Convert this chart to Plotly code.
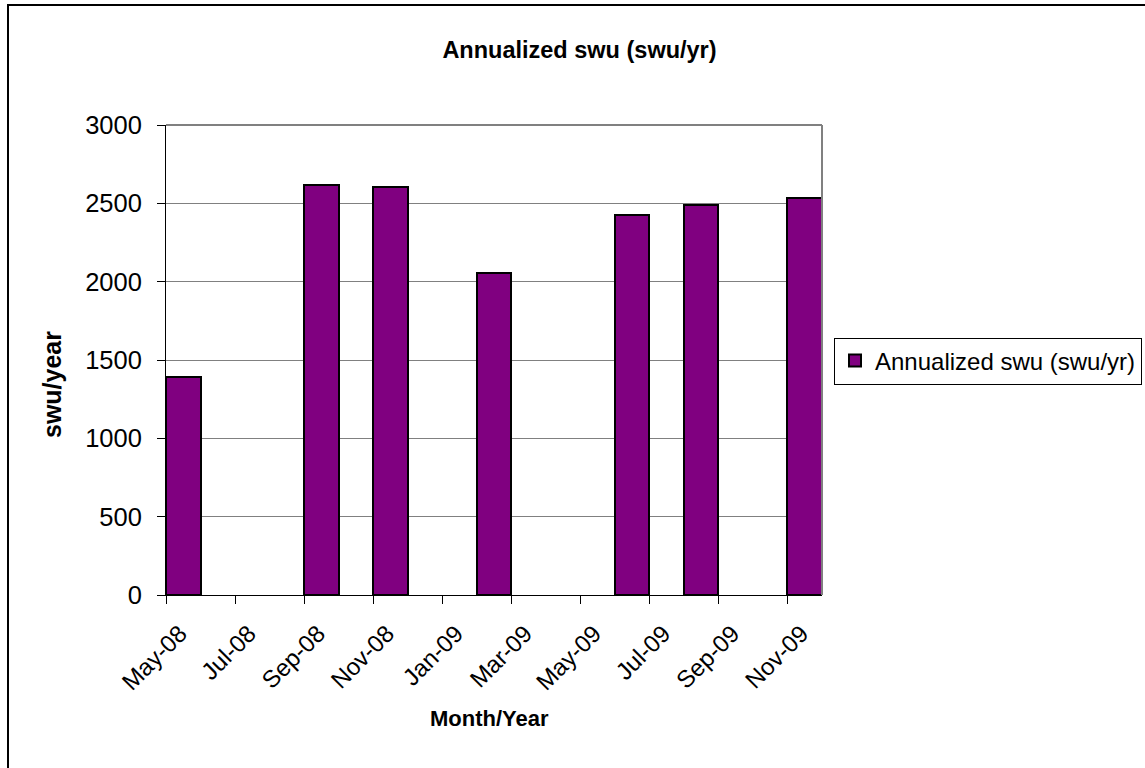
import plotly.graph_objects as go

# Monthly category slots on the axis (May-08 .. Nov-09)
months = ["May-08", "Jun-08", "Jul-08", "Aug-08", "Sep-08", "Oct-08", "Nov-08",
          "Dec-08", "Jan-09", "Feb-09", "Mar-09", "Apr-09", "May-09", "Jun-09",
          "Jul-09", "Aug-09", "Sep-09", "Oct-09", "Nov-09"]
tick_labels = ["May-08", "Jul-08", "Sep-08", "Nov-08", "Jan-09", "Mar-09",
               "May-09", "Jul-09", "Sep-09", "Nov-09"]

# Observed data
bar_months = ["May-08", "Sep-08", "Nov-08", "Feb-09", "Jun-09", "Aug-09", "Nov-09"]
swu_per_year = [1390, 2615, 2605, 2055, 2425, 2490, 2535]

x_idx = [months.index(m) for m in bar_months]
tick_idx = [months.index(m) for m in tick_labels]

W, H = 1145, 768
L, R, T, B = 166, 822, 125, 595  # plot area in pixels

def px(x):
    return (x - L) / (R - L)

def py(y):
    return (B - y) / (B - T)

fig = go.Figure()
fig.add_trace(go.Bar(
    x=x_idx, y=swu_per_year, offset=0, width=1,
    name="Annualized swu (swu/yr)",
    marker=dict(color="#800080", line=dict(color="#000000", width=2)),
))

fig.update_layout(
    width=W, height=H,
    margin=dict(l=L, r=W - R, t=T, b=H - B, pad=0, autoexpand=False),
    paper_bgcolor="white", plot_bgcolor="white",
    font=dict(family="Liberation Sans, Arial, sans-serif", color="black"),
    title=dict(text="<b>Annualized swu (swu/yr)</b>", x=579.5 / W, xref="container",
               xanchor="center", y=1 - 50 / H, yref="container", yanchor="middle",
               font=dict(size=23.5, color="black")),
    showlegend=True,
    legend=dict(x=px(834), y=py(361), xanchor="left", yanchor="middle",
                bordercolor="black", borderwidth=1, bgcolor="white",
                font=dict(size=24, color="black"), itemwidth=30),
    bargap=0,
)

fig.update_xaxes(
    range=[0, len(months)], tickmode="array", tickvals=tick_idx, ticktext=tick_labels,
    tickangle=-45, ticks="outside", ticklen=8, tickcolor="#000000", tickwidth=1,
    showline=True, linecolor="#000000", linewidth=1, showgrid=False, zeroline=False,
    tickfont=dict(size=24, color="black"), ticklabelshift=14, ticklabelstandoff=6,
)
fig.update_yaxes(
    range=[0, 3000], tickvals=[0, 500, 1000, 1500, 2000, 2500, 3000],
    ticks="outside", ticklen=8, tickcolor="#000000", tickwidth=1,
    showline=True, linecolor="#000000", linewidth=1,
    showgrid=True, gridcolor="#808080", gridwidth=1, zeroline=False,
    tickfont=dict(size=25.5, color="black"), ticklabelstandoff=10,
)

# plot-area border (top and right in gray)
fig.add_shape(type="line", xref="paper", yref="paper", x0=0, x1=1, y0=1, y1=1,
              line=dict(color="#808080", width=2))
fig.add_shape(type="line", xref="paper", yref="paper", x0=1, x1=1, y0=0, y1=1,
              line=dict(color="#808080", width=2))
# chart outer frame
fig.add_shape(type="rect", xref="paper", yref="paper",
              x0=px(8), x1=px(1160), y0=py(790), y1=py(5),
              line=dict(color="black", width=2), fillcolor="rgba(0,0,0,0)")

# axis titles
fig.add_annotation(text="<b>Month/Year</b>", xref="paper", yref="paper",
                   x=px(489), y=py(718), showarrow=False,
                   xanchor="center", yanchor="middle", font=dict(size=22, color="black"))
fig.add_annotation(text="<b>swu/year</b>", xref="paper", yref="paper",
                   x=px(52), y=py(385), showarrow=False, textangle=-90,
                   xanchor="center", yanchor="middle", font=dict(size=25, color="black"))

fig.write_html("out.html")
